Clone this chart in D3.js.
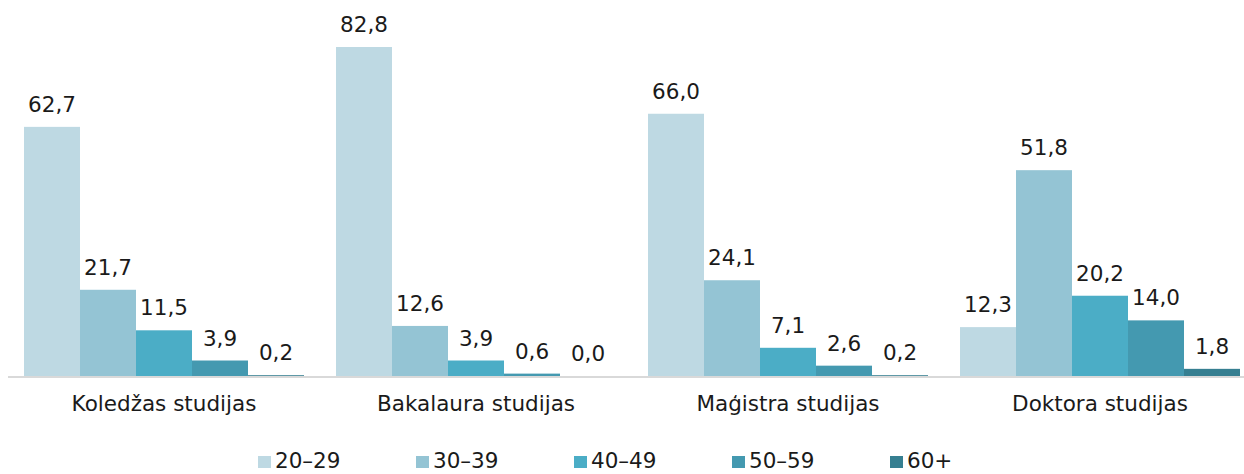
<!DOCTYPE html>
<html lang="lt">
<head>
  <meta charset="UTF-8">
  <title>Studijos pagal amžių</title>
  <script src="https://d3js.org/d3.v7.min.js"></script>
  <style>
    body { margin: 0; background: #fff; }
    svg { display: block; font-family: Verdana, "DejaVu Sans", sans-serif; }
    .val, .cat, .leg { fill: #1a1a1a; font-size: 21.5px; }
  </style>
</head>
<body>
  <div id="chart"></div>
  <script>
    // duomenys
    const categories = ["Koledžas studijas", "Bakalaura studijas", "Maģistra studijas", "Doktora studijas"];
    const series = ["20–29", "30–39", "40–49", "50–59", "60+"];
    const values = [
      [62.7, 21.7, 11.5, 3.9, 0.2],
      [82.8, 12.6, 3.9, 0.6, 0.0],
      [66.0, 24.1, 7.1, 2.6, 0.2],
      [12.3, 51.8, 20.2, 14.0, 1.8]
    ];
    const colors = ["#bed9e3", "#94c4d4", "#4badc6", "#4499b0", "#367f91"];

    const width = 1244, height = 474;
    const base = 376;

    const svg = d3.select("#chart").append("svg")
      .attr("width", width).attr("height", height);

    const x0 = d3.scaleBand()
      .domain(categories)
      .range([8, 1256])
      .paddingInner(32 / 312)
      .paddingOuter(16 / 312);

    const x1 = d3.scaleBand()
      .domain(series)
      .range([0, x0.bandwidth()])
      .padding(0);

    const y = d3.scaleLinear().domain([0, 90]).range([base, base - 90 * (329 / 82.8)]);

    const fmt = v => v.toFixed(1).replace(".", ",");

    const groups = svg.selectAll("g.grp")
      .data(categories)
      .join("g")
      .attr("class", "grp")
      .attr("transform", d => `translate(${x0(d)},0)`);

    groups.selectAll("rect")
      .data((d, i) => values[i].map((v, j) => ({ s: series[j], v, j })))
      .join("rect")
      .attr("x", d => x1(d.s))
      .attr("y", d => y(d.v))
      .attr("width", x1.bandwidth())
      .attr("height", d => base - y(d.v))
      .attr("fill", d => colors[d.j]);

    groups.selectAll("text.val")
      .data((d, i) => values[i].map((v, j) => ({ s: series[j], v })))
      .join("text")
      .attr("class", "val")
      .attr("x", d => x1(d.s) + x1.bandwidth() / 2)
      .attr("y", d => y(d.v) - 15)
      .attr("text-anchor", "middle")
      .text(d => fmt(d.v));

    // ass linija
    svg.append("line")
      .attr("x1", 8).attr("x2", width)
      .attr("y1", base + 1).attr("y2", base + 1)
      .attr("stroke", "#d9d9d9").attr("stroke-width", 2);

    svg.selectAll("text.cat")
      .data(categories)
      .join("text")
      .attr("class", "cat")
      .attr("x", d => x0(d) + x0.bandwidth() / 2)
      .attr("y", 411)
      .attr("text-anchor", "middle")
      .text(d => d);

    // legenda
    const leg = svg.selectAll("g.leg")
      .data(series)
      .join("g")
      .attr("transform", (d, i) => `translate(${258 + i * 158},456)`);

    leg.append("rect")
      .attr("width", 13).attr("height", 12)
      .attr("fill", (d, i) => colors[i]);

    leg.append("text")
      .attr("class", "leg")
      .attr("x", 17).attr("y", 12)
      .text(d => d);
  </script>
</body>
</html>
